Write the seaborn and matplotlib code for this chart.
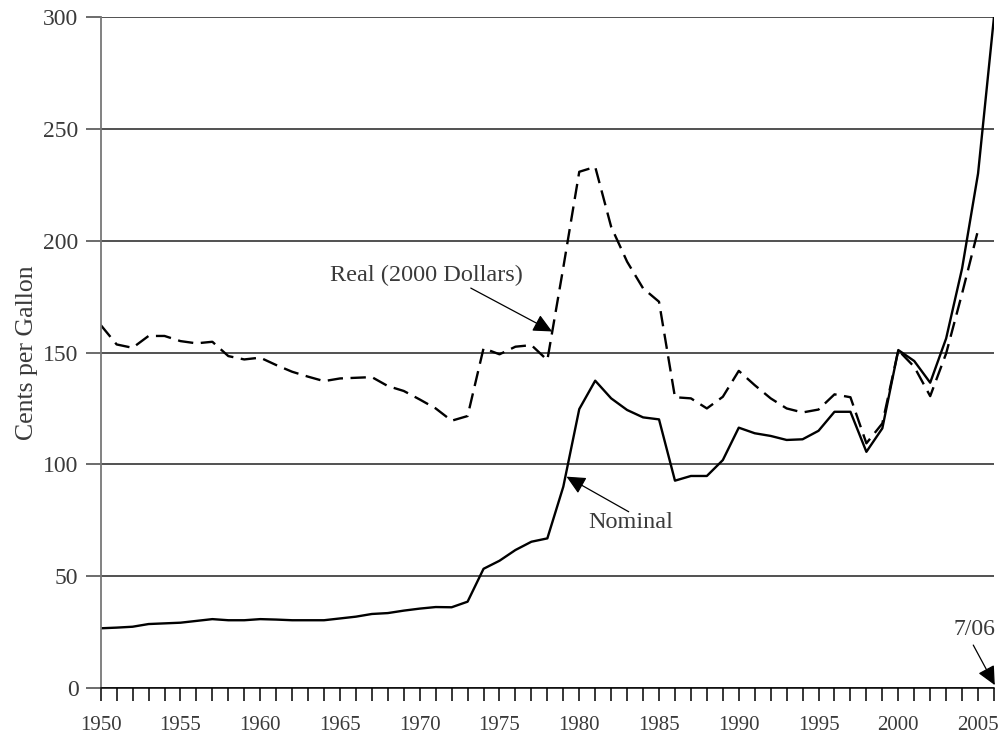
import matplotlib.pyplot as plt
import pandas as pd
import seaborn as sns

# Gasoline price, cents per gallon (nominal goes to 7/06, plotted at 2006)
nominal_years = list(range(1950, 2007))
nominal_cents = [26.7, 27.0, 27.4, 28.6, 28.9, 29.2, 30.0, 30.8, 30.3, 30.3,
                 30.8, 30.6, 30.3, 30.3, 30.3, 31.1, 31.9, 33.1, 33.5, 34.6,
                 35.5, 36.2, 36.1, 38.6, 53.3, 56.9, 61.7, 65.4, 66.9, 90.0,
                 124.7, 137.4, 129.5, 124.3, 121.0, 120.1, 92.7, 94.8, 94.8, 101.9,
                 116.4, 113.9, 112.7, 110.9, 111.2, 115.0, 123.5, 123.5, 105.6, 116.1,
                 151.1, 146.2, 136.5, 156.3, 187.6, 230.0, 300.0]

real_years = list(range(1950, 2006))
real_cents = [162.3, 153.6, 152.1, 157.4, 157.4, 155.1, 154.1, 154.8, 148.4, 146.9,
              147.7, 144.4, 141.4, 139.2, 137.2, 138.4, 138.7, 139.0, 135.0, 132.8,
              129.0, 125.0, 119.5, 121.6, 151.9, 149.2, 152.6, 153.3, 146.6, 188.0,
              230.8, 233.0, 206.2, 190.6, 178.7, 172.7, 130.0, 129.5, 125.0, 130.2,
              141.8, 135.4, 129.5, 125.0, 123.2, 124.5, 131.3, 130.0, 109.4, 118.3,
              151.0, 143.6, 130.5, 149.6, 176.4, 204.7]

x_labels = ["1950", "1955", "1960", "1965", "1970", "1975",
            "1980", "1985", "1990", "1995", "2000", "2005"]

df = pd.concat([
    pd.DataFrame({"year": nominal_years, "cents": nominal_cents, "series": "Nominal"}),
    pd.DataFrame({"year": real_years, "cents": real_cents, "series": "Real"}),
])

sns.set_style("white")
plt.rcParams["font.family"] = ["Liberation Serif", "DejaVu Serif"]

text_color = "#3a3a3a"

fig = plt.figure(figsize=(10, 7.36), dpi=100)
ax = fig.add_axes([0.1007, 0.0652, 0.8933, 0.9117])

sns.lineplot(data=df, x="year", y="cents", style="series",
             dashes={"Nominal": "", "Real": (6.5, 3.2)},
             color="black", linewidth=1.7, legend=False, ax=ax)

ax.set_xlim(1950, 2006)
ax.set_ylim(0, 300)
ax.set_yticks(range(0, 301, 50))
ax.yaxis.grid(True, color="#222222", linewidth=1.1)
ax.set_axisbelow(True)

ax.set_xticks(range(1950, 2007), minor=True)
ax.set_xticks(range(1950, 2006, 5))
ax.set_xticklabels(x_labels)

ax.tick_params(axis="x", which="both", direction="out", length=9.5, width=1.1,
               color="black", bottom=True, pad=11, labelsize=15, labelcolor=text_color)
ax.tick_params(axis="y", direction="out", length=11, width=1.1, color="#444444",
               left=True, pad=5, labelsize=17, labelcolor=text_color)

for side in ["top", "right"]:
    ax.spines[side].set_visible(False)
ax.spines["left"].set_color("#777777")
ax.spines["left"].set_linewidth(1.3)
ax.spines["bottom"].set_color("black")
ax.spines["bottom"].set_linewidth(1.1)

ax.set_xlabel("")
ax.set_ylabel("Cents per Gallon", fontsize=18.5, color=text_color, labelpad=4)

arrow = dict(arrowstyle="-|>,head_length=1.15,head_width=0.55",
             color="black", lw=0.9, shrinkA=0, shrinkB=0)
ax.text(1970.4, 184.6, "Real (2000 Dollars)", ha="center", va="center",
        fontsize=17.5, color=text_color)
ax.annotate("", xy=(1978.3, 159.4), xytext=(1973.2, 178.8), arrowprops=arrow)
ax.text(1983.25, 73.8, "Nominal", ha="center", va="center",
        fontsize=17.5, color=text_color)
ax.annotate("", xy=(1979.2, 94.5), xytext=(1983.1, 78.8), arrowprops=arrow)
ax.text(2004.75, 26.2, "7/06", ha="center", va="center",
        fontsize=17, color=text_color)
ax.annotate("", xy=(2006.05, 1.3), xytext=(2004.7, 19.2), arrowprops=arrow,
            annotation_clip=False)

fig.savefig("out.png", dpi=100)
